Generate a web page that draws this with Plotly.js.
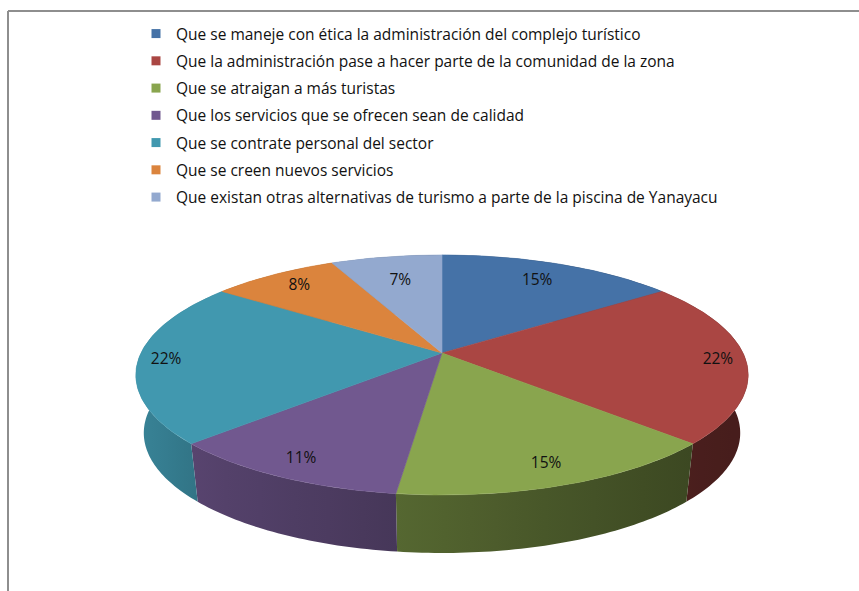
<!DOCTYPE html>
<html><head><meta charset="utf-8">
<script src="https://cdn.plot.ly/plotly-3.0.1.min.js"></script>
<style>html,body{margin:0;padding:0;background:#fff;}</style>
</head><body><div id="chart" style="width:859px;height:591px;"></div>
<script>
const categories = [
  "Que se maneje con ética la administración del complejo turístico",
  "Que la administración pase a hacer parte de la comunidad de la zona",
  "Que se atraigan a más turistas",
  "Que los servicios que se ofrecen sean de calidad",
  "Que se contrate personal del sector",
  "Que se creen nuevos servicios",
  "Que existan otras alternativas de turismo a parte de la piscina de Yanayacu"
];
const values = [15, 22, 15, 11, 22, 8, 7];
const labels = values.map(v => v + "%");
const colors = ["#4572A7", "#AA4643", "#89A54E", "#71588F", "#4198AF", "#DB843D", "#93A9CF"];

const W = 859, H = 591;
const FONT = "'Open Sans', 'Noto Sans', sans-serif";
// geometry of the tilted (perspective) pie
const geo = {cx: 442, cy: 353, A: 301, B: 116, k: 0.183, depth: 58, shrink: 0.974, inset: 28};
function topPt(t, r) {
  if (r === undefined) r = 1;
  const u = r * Math.sin(t), v = r * Math.cos(t), d = 1 + geo.k * v;
  return [geo.cx + geo.A * u / d, geo.cy - geo.B * v / d];
}
function botPt(t) {
  const p = topPt(t);
  return [geo.cx + (p[0] - geo.cx) * geo.shrink, p[1] + geo.depth];
}
const shadeStops = [[100, 0.88], [140, 0.86], [200, 0.76], [400, 0.62], [700, 0.43], [800, 0.40]];
function shadeFactor(x) {
  if (x <= shadeStops[0][0]) return shadeStops[0][1];
  for (let i = 1; i < shadeStops.length; i++) {
    if (x <= shadeStops[i][0]) {
      const [x0, f0] = shadeStops[i - 1], [x1, f1] = shadeStops[i];
      return f0 + (f1 - f0) * (x - x0) / (x1 - x0);
    }
  }
  return shadeStops[shadeStops.length - 1][1];
}
function shade(hex, f) {
  const n = parseInt(hex.slice(1), 16);
  const r = Math.round(((n >> 16) & 255) * f), g = Math.round(((n >> 8) & 255) * f), b = Math.round((n & 255) * f);
  return "rgb(" + r + "," + g + "," + b + ")";
}

const total = values.reduce((a, b) => a + b, 0);
let acc = 0;
const slices = values.map(v => {
  const a0 = acc / total * 2 * Math.PI; acc += v;
  return [a0, acc / total * 2 * Math.PI];
});

const traces = [];
// side walls
slices.forEach(([a0, a1], i) => {
  const n = Math.max(8, Math.ceil((a1 - a0) / (2 * Math.PI) * 360));
  const xs = [], ys = [];
  for (let j = 0; j <= n; j++) { const p = topPt(a0 + (a1 - a0) * j / n); xs.push(p[0]); ys.push(p[1]); }
  for (let j = n; j >= 0; j--) { const p = botPt(a0 + (a1 - a0) * j / n); xs.push(p[0]); ys.push(p[1]); }
  xs.push(xs[0]); ys.push(ys[0]);
  const xmin = Math.min(...xs), xmax = Math.max(...xs);
  const cs = [];
  for (let s = 0; s <= 6; s++) { const x = xmin + (xmax - xmin) * s / 6; cs.push([s / 6, shade(colors[i], shadeFactor(x))]); }
  traces.push({
    type: "scatter", x: xs, y: ys, mode: "none", fill: "toself",
    fillcolor: shade(colors[i], shadeFactor((xmin + xmax) / 2)),
    fillgradient: {type: "horizontal", start: xmin, stop: xmax, colorscale: cs},
    hoverinfo: "skip", showlegend: false
  });
});
// top faces
slices.forEach(([a0, a1], i) => {
  const n = Math.max(8, Math.ceil((a1 - a0) / (2 * Math.PI) * 360));
  const xs = [geo.cx], ys = [geo.cy];
  for (let j = 0; j <= n; j++) { const p = topPt(a0 + (a1 - a0) * j / n); xs.push(p[0]); ys.push(p[1]); }
  xs.push(geo.cx); ys.push(geo.cy);
  traces.push({
    type: "scatter", x: xs, y: ys, mode: "lines", fill: "toself",
    fillcolor: colors[i], line: {color: colors[i], width: 0.6},
    hoverinfo: "skip", showlegend: false
  });
});
// percentage labels
const lx = [], ly = [];
slices.forEach(([a0, a1]) => {
  const e = topPt((a0 + a1) / 2);
  const dx = geo.cx - e[0], dy = geo.cy - e[1], L = Math.hypot(dx, dy);
  lx.push(e[0] + dx / L * geo.inset); ly.push(e[1] + dy / L * geo.inset);
});
traces.push({
  type: "scatter", x: lx, y: ly, mode: "text", text: labels,
  textfont: {family: FONT, size: 15.5, color: "#111111"},
  hoverinfo: "skip", showlegend: false
});
// legend entries
categories.forEach((c, i) => {
  traces.push({
    type: "scatter", x: [null], y: [null], mode: "markers", name: c,
    legendgroup: "g" + i,
    marker: {symbol: "square", size: 9, color: colors[i]}
  });
});

const layout = {
  width: W, height: H, margin: {l: 0, r: 0, t: 0, b: 0},
  paper_bgcolor: "#ffffff", plot_bgcolor: "#ffffff",
  xaxis: {range: [0, W], visible: false, fixedrange: true},
  yaxis: {range: [H, 0], visible: false, fixedrange: true},
  showlegend: true,
  legend: {
    x: 136 / W, xanchor: "left", y: 1 - 17 / H, yanchor: "top",
    font: {family: FONT, size: 15.5, color: "#111111"},
    traceorder: "grouped", tracegroupgap: 4.1, bgcolor: "rgba(0,0,0,0)", borderwidth: 0
  },
  shapes: [
    {type: "line", xref: "x", yref: "y", x0: 8, x1: 8, y0: 11, y1: H, line: {color: "#8e8e8e", width: 2}},
    {type: "line", xref: "x", yref: "y", x0: 8, x1: W, y0: 11, y1: 11, line: {color: "#8e8e8e", width: 2}}
  ]
};
Plotly.newPlot("chart", traces, layout, {displayModeBar: false, staticPlot: true});
</script></body></html>
